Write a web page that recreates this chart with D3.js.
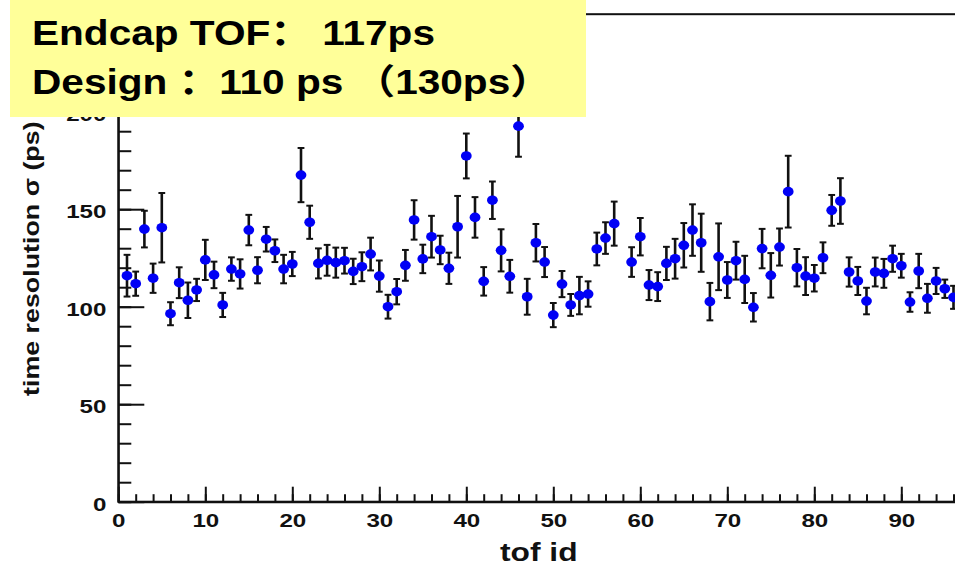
<!DOCTYPE html>
<html>
<head>
<meta charset="utf-8">
<script src="https://cdn.jsdelivr.net/npm/d3@7"></script>
<style>
  body { margin: 0; background: #fff; }
  svg text { font-family: "Liberation Sans", Arial, "Noto Sans CJK SC", sans-serif; font-weight: bold; }
</style>
</head>
<body>
<div id="chart"></div>
<script>
// tof id (58 has no entry)
var ids = [1,2,3,4,5,6,7,8,9,10,11,12,13,14,15,16,17,18,19,20,
  21,22,23,24,25,26,27,28,29,30,31,32,33,34,35,36,37,38,39,40,
  41,42,43,44,45,46,47,48,49,50,51,52,53,54,55,56,57,59,60,
  61,62,63,64,65,66,67,68,69,70,71,72,73,74,75,76,77,78,79,80,
  81,82,83,84,85,86,87,88,89,90,91,92,93,94,95,96];
// time resolution (ps)
var sigma = [115.9,111.8,139.8,114.6,140.5,96.4,112.3,103.3,108.6,124.0,116.3,100.9,119.3,116.8,139.3,118.7,134.6,128.7,119.3,121.9,
  167.5,143.3,122.2,123.8,122.6,123.6,118.1,120.5,127.0,115.7,100.0,107.7,121.2,144.5,124.5,135.9,129.1,119.7,141.0,177.3,
  145.8,113.0,154.6,128.9,115.6,192.6,105.1,132.8,122.9,95.7,111.6,100.9,105.7,106.5,129.6,135.2,142.6,122.9,135.9,
  111.1,110.3,122.2,124.6,131.5,139.3,132.8,102.6,125.6,113.7,123.6,114.0,99.7,129.8,116.1,130.6,159.0,120.0,115.7,114.6,
  125.1,149.4,154.2,117.8,113.2,102.9,117.8,117.1,124.6,121.0,102.4,118.3,104.3,113.2,109.2,104.8];
// error (ps)
var sigmaErr = [10.7,6.2,9.4,7.5,17.8,5.9,7.9,9.1,5.7,10.3,6.8,6.2,6.0,7.5,7.8,6.7,6.3,5.8,7.3,6.2,
  13.9,8.5,7.7,7.9,7.7,6.6,6.5,7.4,8.4,8.0,6.1,6.5,7.9,10.1,7.3,10.7,7.3,8.0,15.8,11.5,
  10.4,7.3,9.6,10.8,8.4,15.7,9.2,9.6,7.7,6.2,6.7,5.6,9.6,6.5,8.4,8.1,11.3,7.6,9.6,
  7.7,7.4,8.5,10.2,11.4,13.2,14.9,9.6,17.1,9.2,9.7,12.1,7.3,10.1,11.4,9.5,18.4,9.6,9.7,6.8,
  7.9,7.9,11.7,7.5,7.2,6.8,7.4,7.4,6.7,6.1,5.0,8.8,7.4,6.7,4.7,5.9];

var xTicks = [0,10,20,30,40,50,60,70,80,90];
var yTicks = [0,50,100,150,200];
var noteLines = ["Endcap TOF\uff1a 117ps", "Design \uff1a110 ps \uff08130ps\uff09"];

var W = 955, H = 565;
var stretch = 1.27; // chart fonts look wide

var svg = d3.select("#chart").append("svg")
  .attr("width", W).attr("height", H);

var x = d3.scaleLinear().domain([0, 100]).range([118.3, 988.3]);
var y = d3.scaleLinear().domain([0, 250]).range([501.7, 14.2]);

var data = ids.map(function(d, i) { return {id: d, v: sigma[i], e: sigmaErr[i]}; });

// frame
svg.append("rect")
  .attr("x", x(0)).attr("y", y(250))
  .attr("width", x(100) - x(0)).attr("height", y(0) - y(250))
  .attr("fill", "none").attr("stroke", "#111").attr("stroke-width", 2);

// minor ticks
svg.append("g")
  .attr("transform", "translate(0," + y(0) + ")")
  .call(d3.axisBottom(x).tickValues(d3.range(0, 101, 2)).tickSize(-7.5).tickSizeOuter(0).tickFormat(""))
  .call(function(g) { g.select(".domain").remove(); g.selectAll("line").attr("stroke", "#111").attr("stroke-width", 2); });
svg.append("g")
  .attr("transform", "translate(" + x(0) + ",0)")
  .call(d3.axisLeft(y).tickValues(d3.range(0, 251, 10)).tickSize(-13).tickSizeOuter(0).tickFormat(""))
  .call(function(g) { g.select(".domain").remove(); g.selectAll("line").attr("stroke", "#111").attr("stroke-width", 2); });

// major ticks + labels
var xAxis = svg.append("g")
  .attr("transform", "translate(0," + y(0) + ")")
  .call(d3.axisBottom(x).tickValues(xTicks).tickSize(-15).tickSizeOuter(0).tickPadding(12).tickFormat(d3.format("d")));
var yAxis = svg.append("g")
  .attr("transform", "translate(" + x(0) + ",0)")
  .call(d3.axisLeft(y).tickValues(yTicks).tickSize(-26).tickSizeOuter(0).tickPadding(9.4).tickFormat(d3.format("d")));

[xAxis, yAxis].forEach(function(g) {
  g.select(".domain").attr("stroke", "#111").attr("stroke-width", 2);
  g.selectAll("line").attr("stroke", "#111").attr("stroke-width", 2);
  g.selectAll("text")
    .attr("font-size", 19).attr("fill", "#111")
    .attr("transform", "scale(" + stretch + ",1)");
});
xAxis.selectAll("text").attr("dy", "0.71em");
yAxis.selectAll("text").attr("dy", "0.45em");

// axis titles
svg.append("text")
  .attr("transform", "translate(500,561) scale(" + stretch + ",1)")
  .attr("font-size", 25).attr("fill", "#111")
  .text("tof id");
svg.append("text")
  .attr("transform", "translate(39,396) rotate(-90) scale(1.22,1)")
  .attr("font-size", 22).attr("fill", "#111")
  .text("time resolution \u03c3 (ps)");

// error bars
var pts = svg.append("g");
pts.selectAll(".err").data(data).enter().append("line")
  .attr("x1", function(d) { return x(d.id); })
  .attr("x2", function(d) { return x(d.id); })
  .attr("y1", function(d) { return y(d.v - d.e); })
  .attr("y2", function(d) { return y(d.v + d.e); })
  .attr("stroke", "#111").attr("stroke-width", 2.6);
[-1, 1].forEach(function(s) {
  pts.selectAll(".cap" + s).data(data).enter().append("line")
    .attr("x1", function(d) { return x(d.id) - 3.4; })
    .attr("x2", function(d) { return x(d.id) + 3.4; })
    .attr("y1", function(d) { return y(d.v + s * d.e); })
    .attr("y2", function(d) { return y(d.v + s * d.e); })
    .attr("stroke", "#111").attr("stroke-width", 2);
});
pts.selectAll("ellipse").data(data).enter().append("ellipse")
  .attr("cx", function(d) { return x(d.id); })
  .attr("cy", function(d) { return y(d.v); })
  .attr("rx", 5.4).attr("ry", 4.8)
  .attr("fill", "#0000f5");

// yellow note box
svg.append("rect")
  .attr("x", 10).attr("y", 0).attr("width", 576).attr("height", 117)
  .attr("fill", "#ffff99");
svg.selectAll(".note").data(noteLines).enter().append("text")
  .attr("class", "note")
  .attr("transform", function(d, i) { return "translate(32," + (45 + i * 49) + ") scale(1.16,1)"; })
  .attr("font-size", 35).attr("fill", "#000")
  .text(function(d) { return d; });
</script>
</body>
</html>
